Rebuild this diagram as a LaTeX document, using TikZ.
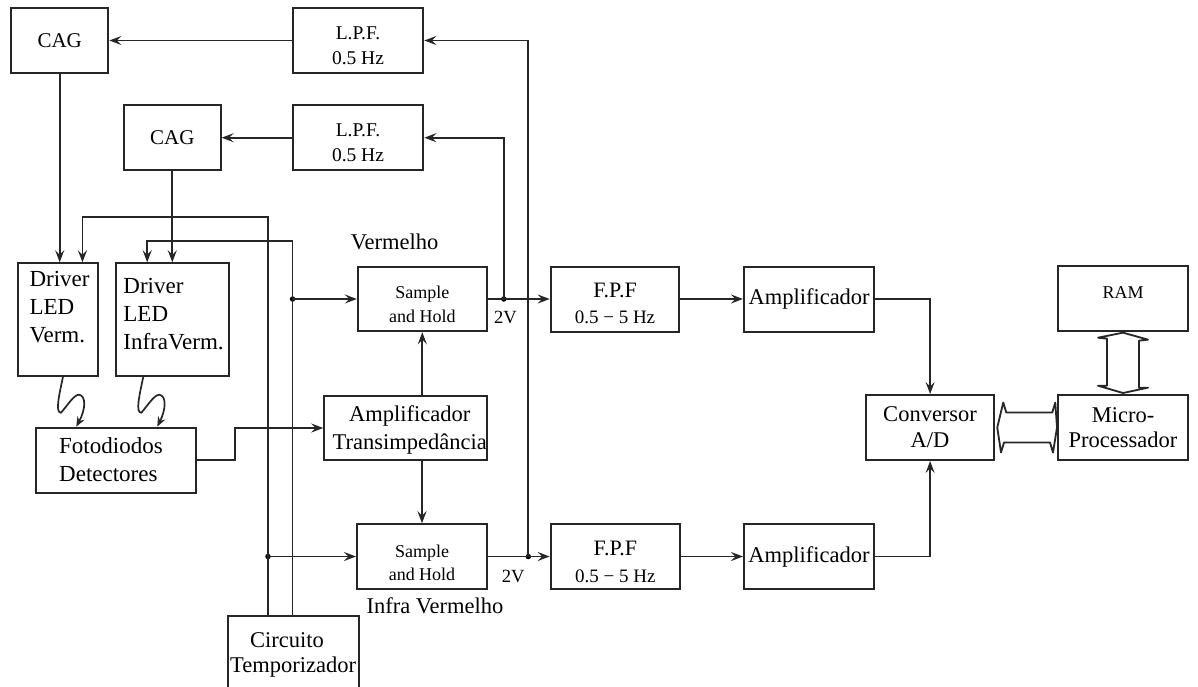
\documentclass[tikz,border=0pt]{standalone}
\usepackage{fontspec}
\setmainfont{Liberation Serif}
\usetikzlibrary{arrows.meta,calc}

% font sizes (1pt = 1 unit of the drawing grid)
\newcommand\fsmain{\fontsize{22.5}{26}\selectfont}
\newcommand\fsdrv{\fontsize{23}{28}\selectfont}
\newcommand\fscag{\fontsize{21}{25}\selectfont}
\newcommand\fslpf{\fontsize{19.5}{25}\selectfont}
\newcommand\fssh{\fontsize{18}{23.3}\selectfont}
\newcommand\fssmall{\fontsize{18.6}{22}\selectfont}

\tikzset{
  blk/.style={draw=black!85, line width=2pt, inner sep=0pt, align=center, font=\fsmain},
  lbl/.style={inner sep=0pt, align=center, font=\fsmain},
  wire/.style={line width=1.7pt, draw=black!85},
  arr/.style={wire, -{Stealth[length=12pt,width=9pt,inset=4.5pt]}},
  zarr/.style={wire, -{Stealth[length=10pt,width=8pt,inset=3.5pt]}},
  jdot/.style={circle, fill=black, inner sep=0pt, minimum size=5.5pt},
  bus/.style={line width=1.8pt, draw=black!85, fill=white, line join=round},
}

\begin{document}
\begin{tikzpicture}[x=1pt,y=-1pt]
\clip (0,0) rectangle (1198,686);
\fill[white] (0,0) rectangle (1198,686);

% ---- gain control loop ----
\node[blk, minimum width=97.3pt, minimum height=64.4pt, font=\fscag] (cag1) at (59.7,40.5) {CAG};
\node[blk, minimum width=130.6pt, minimum height=64.4pt] (lpf1) at (358,40.5) {};
\node[lbl, font=\fslpf] (lpf1t) at (358,45.5) {L.P.F.\\0.5 Hz};
\node[blk, minimum width=96.7pt, minimum height=64.5pt, font=\fscag] (cag2) at (172.3,137.7) {CAG};
\node[blk, minimum width=130.6pt, minimum height=64.5pt] (lpf2) at (358,137.7) {};
\node[lbl, font=\fslpf] (lpf2t) at (358,142.7) {L.P.F.\\0.5 Hz};

% ---- LED drivers and detector ----
\node[blk, minimum width=80.3pt, minimum height=112.4pt] (drv1) at (58,319.5) {};
\node[lbl, align=left, anchor=north west, font=\fsdrv] (drv1t) at (29.3,271.5) {Driver\\LED\\Verm.};
\node[blk, minimum width=112.6pt, minimum height=112.4pt] (drv2) at (172.3,319.5) {};
\node[lbl, align=left, anchor=north west, font=\fsdrv] (drv2t) at (123.2,277.8) {Driver\\LED\\InfraVerm.};
\node[blk, minimum width=160.7pt, minimum height=64.8pt] (foto) at (116,460.1) {};
\node[lbl, align=left, anchor=north west, font=\fsdrv] (fotot) at (59,437.5) {Fotodiodos\\Detectores};

% ---- sample and hold stage ----
\node[blk, minimum width=129pt, minimum height=64.5pt] (sh1) at (422.3,299) {};
\node[lbl, font=\fssh] (sh1t) at (422.3,304.3) {Sample\\and Hold};
\node[blk, minimum width=162.5pt, minimum height=64pt] (at) at (405.5,428) {};
\node[lbl, font=\fontsize{22.5}{27.4}\selectfont] (att) at (409.8,430) {Amplificador\\Transimpedância};
\node[blk, minimum width=130pt, minimum height=64.5pt] (sh2) at (422,556.5) {};
\node[lbl, font=\fssh] (sh2t) at (422,563) {Sample\\and Hold};
\node[blk, minimum width=131pt, minimum height=90pt] (tmr) at (293.5,661) {};
\node[lbl, align=left, anchor=north west, font=\fontsize{22.5}{25}\selectfont] (tmrt) at (230,632.5) {\hspace*{20pt}Circuito\\Temporizador};

\node[lbl] (vm) [anchor=base] at (394.6,249.3) {Vermelho};
\node[lbl] (ivm) [anchor=base] at (435,613.3) {Infra Vermelho};
\node[lbl, font=\fssmall] (v1) [anchor=base] at (505.5,323.3) {2V};
\node[lbl, font=\fssmall] (v2) [anchor=base] at (513.3,582.7) {2V};

% ---- band-pass filters and amplifiers ----
\node[blk, minimum width=128.6pt, minimum height=65pt] (fpf1) at (615,299) {};
\node[lbl, font=\fontsize{22}{26.7}\selectfont] (fpf1t) at (615,303.3) {F.P.F\\{\fontsize{19}{26.7}\selectfont 0.5 − 5 Hz}};
\node[blk, minimum width=129.3pt, minimum height=65pt] (fpf2) at (615.3,556.5) {};
\node[lbl, font=\fontsize{22}{26.7}\selectfont] (fpf2t) at (615.3,562) {F.P.F\\{\fontsize{19}{26.7}\selectfont 0.5 − 5 Hz}};
\node[blk, minimum width=130.3pt, minimum height=65pt] (amp1) at (809.1,299) {Amplificador};
\node[blk, minimum width=130pt, minimum height=65pt] (amp2) at (809,556.5) {Amplificador};

% ---- conversion and processing ----
\node[blk, minimum width=128.3pt, minimum height=65pt, font=\fontsize{22.5}{26}\selectfont] (conv) at (930.1,427.5) {Conversor\\A/D};
\node[blk, minimum width=130pt, minimum height=65pt, font=\fontsize{22.5}{24.5}\selectfont] (mp) at (1123,427.5) {Micro-\\Processador};
\node[blk, minimum width=130pt, minimum height=64.7pt] (ram) at (1123,298.3) {};
\node[lbl, font=\fontsize{18}{22}\selectfont] (ramt) at (1123,292.5) {RAM};

% ---- timing lines ----
\coordinate (ta) at ($(tmr.north west)+(41,0)$);
\coordinate (tb) at ($(tmr.north west)+(65.6,0)$);
\node[jdot] (j1) at (tb |- sh1.west) {};
\node[jdot] (j2) at (ta |- sh2.west) {};
\node[jdot] (j3) at ($(sh1.east)+(16,0)$) {};
\node[jdot] (j4) at ($(sh2.east)+(40.3,0)$) {};

\draw[arr] (ta) |- ($(drv1.north west)+(65.6,-45)$) -- ($(drv1.north west)+(65.6,0)$);
\draw[arr] (tb) |- ($(drv2.north west)+(32.2,-21)$) -- ($(drv2.north west)+(32.2,0)$);
\draw[arr] (j1.center) -- (sh1.west);
\draw[arr] (j2.center) -- (sh2.west);

% ---- signal path ----
\draw[arr] (sh1.east) -- (fpf1.west);
\draw[arr] (sh2.east) -- (fpf2.west);
\draw[arr] (j3.center) |- (lpf2.east);
\draw[arr] (j4.center) |- (lpf1.east);
\draw[arr] (lpf1.west) -- (cag1.east);
\draw[arr] (lpf2.west) -- (cag2.east);
\draw[arr] (cag1.south) -- (cag1.south |- drv1.north);
\draw[arr] (cag2.south) -- (cag2.south |- drv2.north);
\draw[arr] (foto.east) -- ++(37.6,0) |- (at.west);
\draw[arr] (sh1.south |- at.north) -- (sh1.south);
\draw[arr] (sh2.north |- at.south) -- (sh2.north);
\draw[arr] (fpf1.east) -- (amp1.west);
\draw[arr] (fpf2.east) -- (amp2.west);
\draw[arr] (amp1.east) -| (conv.north);
\draw[arr] (amp2.east) -| (conv.south);

% ---- optical links ----
\coordinate (z1) at ($(drv1.south)+(5,0)$);
\draw[zarr] (z1) .. controls ($(z1)+(-4,19)$) and ($(z1)+(-8,36)$) .. ($(z1)+(-2,36)$)
  .. controls ($(z1)+(5,28)$) and ($(z1)+(11,18)$) .. ($(z1)+(16,18)$)
  .. controls ($(z1)+(23,19)$) and ($(z1)+(23,32)$) .. ($(foto.north west)+(41.6,0)$);
\coordinate (z2) at ($(drv2.south)+(-29,0)$);
\draw[zarr] (z2) .. controls ($(z2)+(-4,19)$) and ($(z2)+(-8,36)$) .. ($(z2)+(-2,36)$)
  .. controls ($(z2)+(5,28)$) and ($(z2)+(11,18)$) .. ($(z2)+(16,18)$)
  .. controls ($(z2)+(23,19)$) and ($(z2)+(23,32)$) .. ($(foto.north west)+(122.6,0)$);

% ---- data buses ----
\draw[bus] ($(conv.east)+(2,0)$) -- ++(6,-25) -- ++(3,10) -- ++(46,0) -- ++(3,-10)
  -- (mp.west) -- ++(-4,25) -- ++(-3,-10) -- ++(-46,0) -- ++(-3,10) -- cycle;
\draw[bus] ($(ram.south)+(0,1)$) -- ++(25,7) -- ++(-9,1) -- ++(0,47) -- ++(9,0)
  -- ($(mp.north)+(0,-1)$) -- ++(-25,-7.3) -- ++(9,0) -- ++(0,-47) -- ++(-9,-1) -- cycle;
\end{tikzpicture}
\end{document}
